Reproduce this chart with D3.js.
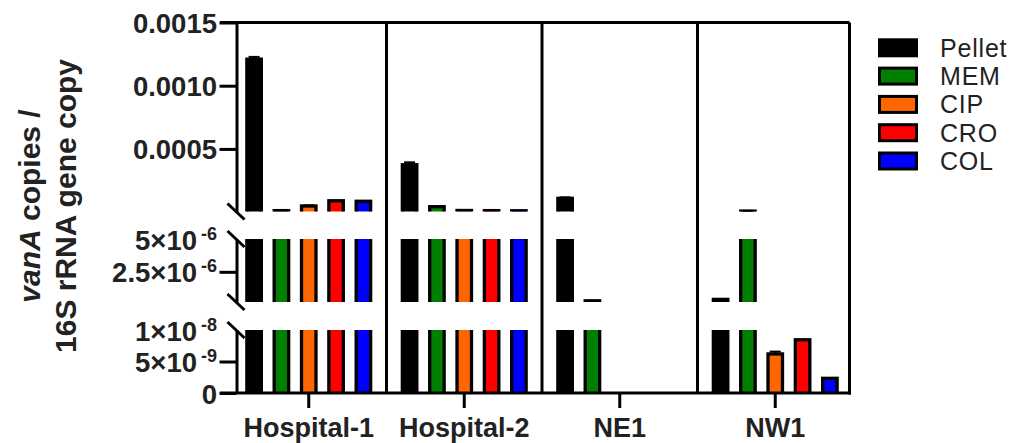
<!DOCTYPE html>
<html><head><meta charset="utf-8">
<script src="https://cdn.jsdelivr.net/npm/d3@7"></script>
<style>body{margin:0;background:#fff} svg{display:block}</style>
</head><body>
<svg id="chart" width="1023" height="443"></svg>
<script>
// ---------------- data ----------------
const groups = ["Hospital-1", "Hospital-2", "NE1", "NW1"];
const series = ["Pellet", "MEM", "CIP", "CRO", "COL"];
const seriesColors = ["#000000", "#008000", "#ff6600", "#ff0000", "#0000ff"];

const pelletValues = [0.00121, 0.000375, 0.000109, 4.0e-7];
const pelletErrors = [0.000018, 0.000019, 0.000008, 0];
const memValues    = [0.000012, 0.000043, 2.9e-7, 8e-6];
const memErrors    = [0, 0, 1e-8, 3e-6];
const cipValues    = [0.0000485, 0.000013, 0, 6.2e-9];
const cipErrors    = [0.000005, 0, 0, 0.37e-9];
const croValues    = [0.00009, 0.000012, 0, 8.45e-9];
const croErrors    = [0, 0, 0, 0];
const colValues    = [0.000086, 0.000011, 0, 2.33e-9];
const colErrors    = [0, 0, 0, 0];

const topDomain = [5e-6, 0.0015];
const topTicks = [0.0005, 0.0010, 0.0015];
const topTickLabels = [["0.0005", ""], ["0.0010", ""], ["0.0015", ""]];
const midDomain = [2e-7, 5e-6];
const midTicks = [2.5e-6];
const midLabelValues = [2.5e-6, 5e-6];
const midTickLabels = [["2.5×10", "-6"], ["5×10", "-6"]];
const lowDomain = [0, 1e-8];
const lowTicks = [0, 5e-9];
const lowLabelValues = [0, 5e-9, 1e-8];
const lowTickLabels = [["0", ""], ["5×10", "-9"], ["1×10", "-8"]];

const allValues = [pelletValues, memValues, cipValues, croValues, colValues];
const allErrors = [pelletErrors, memErrors, cipErrors, croErrors, colErrors];

// ---------------- layout ----------------
const svg = d3.select("#chart");
const FONT = "'Liberation Sans', Arial, Helvetica, sans-serif";
const TXT = "#222";
const axisX = 236.5, frameRight = 849.5, frameTop = 22.5, baseY = 393;

const x = d3.scaleBand().domain(groups).range([231, 853]).paddingInner(0).paddingOuter(0);
const xi = d3.scaleBand().domain(series).range([0, x.bandwidth()]).paddingInner(0.47).paddingOuter(0.58);

const segments = [
  {domain: topDomain, range: [211.5, frameTop], ticks: topTicks, labelValues: topTicks, labels: topTickLabels, breakBottom: true, breakTop: false},
  {domain: midDomain, range: [302, 239], ticks: midTicks, labelValues: midLabelValues, labels: midTickLabels, breakBottom: true, breakTop: true},
  {domain: lowDomain, range: [baseY, 330], ticks: lowTicks, labelValues: lowLabelValues, labels: lowTickLabels, breakBottom: false, breakTop: true}
];

const defs = svg.append("defs");

// frame: top line, dividers, right border
svg.append("line").attr("x1", 220).attr("x2", frameRight).attr("y1", frameTop).attr("y2", frameTop)
  .attr("stroke", "#000").attr("stroke-width", 3);
groups.slice(1).forEach(g => {
  svg.append("line").attr("x1", x(g)).attr("x2", x(g)).attr("y1", frameTop).attr("y2", baseY)
    .attr("stroke", "#000").attr("stroke-width", 3);
});
svg.append("line").attr("x1", frameRight).attr("x2", frameRight).attr("y1", frameTop).attr("y2", baseY + 1.5)
  .attr("stroke", "#000").attr("stroke-width", 3);

segments.forEach((seg, si) => {
  const y = d3.scaleLinear().domain(seg.domain).range(seg.range);
  const clipId = "clip" + si;
  defs.append("clipPath").attr("id", clipId).append("rect")
    .attr("x", axisX).attr("y", seg.range[1]).attr("width", frameRight - axisX).attr("height", seg.range[0] - seg.range[1]);

  const gBars = svg.append("g").attr("clip-path", `url(#${clipId})`);
  const gErr = svg.append("g");
  groups.forEach((g, gi) => {
    series.forEach((s, k) => {
      const v = allValues[k][gi];
      const e = allErrors[k][gi];
      if (!(v > seg.domain[0])) return;
      const yTop = v >= seg.domain[1] ? seg.range[1] - 8 : y(v);
      const bx = x(g) + xi(s);
      gBars.append("rect")
        .attr("x", bx).attr("width", xi.bandwidth())
        .attr("y", yTop).attr("height", seg.range[0] + 8 - yTop)
        .attr("fill", seriesColors[k]).attr("stroke", "#000").attr("stroke-width", 3.3);
      if (e > 0 && v < seg.domain[1]) {
        const ye = y(v + e);
        const cx = bx + xi.bandwidth() / 2;
        gErr.append("line").attr("x1", cx).attr("x2", cx).attr("y1", yTop).attr("y2", ye)
          .attr("stroke", "#000").attr("stroke-width", 2);
        gErr.append("line").attr("x1", cx - 5.5).attr("x2", cx + 5.5).attr("y1", ye).attr("y2", ye)
          .attr("stroke", "#000").attr("stroke-width", 2);
      }
    });
  });

  // left axis segment
  const ax = svg.append("g").attr("transform", `translate(${axisX},0)`)
    .call(d3.axisLeft(y).tickValues(seg.ticks).tickSize(17).tickSizeOuter(0).tickFormat(""));
  ax.select(".domain").attr("stroke", "#000").attr("stroke-width", 3);
  ax.selectAll(".tick line").attr("stroke", "#000").attr("stroke-width", 3);

  // tick labels with superscripts
  seg.labelValues.forEach((tv, li) => {
    const [base, sup] = seg.labels[li];
    const t = svg.append("text").attr("x", 217).attr("y", y(tv) + 10.5)
      .attr("text-anchor", "end").attr("font-family", FONT).attr("font-weight", "bold")
      .attr("font-size", 27.5).attr("fill", TXT);
    t.append("tspan").text(base);
    if (sup) {
      t.append("tspan").attr("font-size", 18).attr("dx", 4).attr("dy", -10).text(sup);
    }
  });

  // break marks
  const mark = yy => svg.append("line").attr("x1", axisX - 9).attr("x2", axisX + 8)
    .attr("y1", yy - 8).attr("y2", yy + 8).attr("stroke", "#000").attr("stroke-width", 3);
  if (seg.breakBottom) mark(seg.range[0]);
  if (seg.breakTop) mark(seg.range[1]);
});

// x axis
const xa = svg.append("g").attr("transform", `translate(0,${baseY})`)
  .call(d3.axisBottom(x).tickSize(15).tickSizeOuter(0));
xa.select(".domain").remove();
xa.selectAll(".tick line").attr("stroke", "#000").attr("stroke-width", 3);
xa.selectAll(".tick text").attr("font-family", FONT).attr("font-weight", "bold")
  .attr("font-size", 27).attr("fill", TXT).attr("dy", 0).attr("y", 44);
svg.append("line").attr("x1", 220).attr("x2", frameRight + 1.5).attr("y1", baseY).attr("y2", baseY)
  .attr("stroke", "#000").attr("stroke-width", 3);

// y title
const t1 = svg.append("text").attr("transform", "translate(40,206) rotate(-90)")
  .attr("text-anchor", "middle").attr("font-family", FONT).attr("font-weight", "bold")
  .attr("font-size", 30).attr("fill", TXT);
t1.append("tspan").attr("font-style", "italic").text("vanA");
t1.append("tspan").text(" copies /");
svg.append("text").attr("transform", "translate(76,206) rotate(-90)")
  .attr("text-anchor", "middle").attr("font-family", FONT).attr("font-weight", "bold")
  .attr("font-size", 30).attr("fill", TXT).text("16S rRNA gene copy");

// legend
const lg = svg.append("g");
series.forEach((s, k) => {
  const cy = 47.8 + k * 28.3;
  lg.append("rect").attr("x", 879.5).attr("y", cy - 8).attr("width", 37).attr("height", 16)
    .attr("fill", seriesColors[k]).attr("stroke", "#000").attr("stroke-width", 3);
  lg.append("text").attr("x", 940).attr("y", cy).attr("dy", "0.36em")
    .attr("font-family", FONT).attr("font-size", 25).attr("letter-spacing", 0.8)
    .attr("fill", TXT).text(s);
});
</script>
</body></html>
